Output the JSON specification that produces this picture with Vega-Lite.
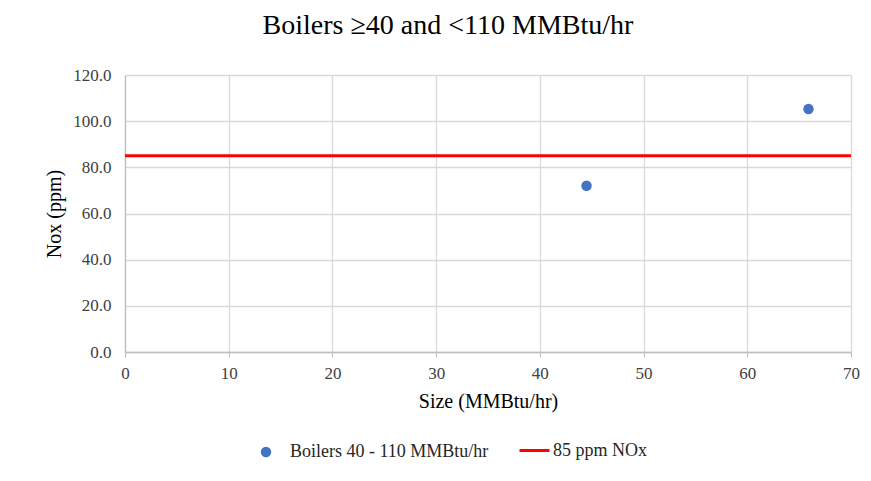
{
  "$schema": "https://vega.github.io/schema/vega-lite/v6.json",
  "width": 726,
  "height": 277,
  "autosize": "none",
  "padding": {"left": 125, "top": 75, "right": 20, "bottom": 129},
  "background": "white",
  "title": {
    "text": "Boilers ≥40 and <110 MMBtu/hr",
    "font": "Liberation Serif",
    "fontSize": 28,
    "fontWeight": "normal",
    "color": "#000000",
    "anchor": "middle",
    "dx": -40,
    "offset": 26
  },
  "config": {
    "view": {"stroke": null},
    "axis": {
      "labelFont": "Liberation Serif",
      "titleFont": "Liberation Serif",
      "labelFontSize": 17,
      "titleFontSize": 20,
      "titleFontWeight": "normal",
      "labelColor": "#404040",
      "titleColor": "#000000",
      "gridColor": "#d9d9d9",
      "gridWidth": 1.3,
      "domainColor": "#bfbfbf",
      "domainWidth": 1.3,
      "tickColor": "#bfbfbf",
      "labelFlush": false
    },
    "legend": {
      "labelFont": "Liberation Serif",
      "labelFontSize": 18,
      "labelColor": "#262626",
      "labelLimit": 400
    }
  },
  "datasets": {
    "boilers": [
      {"series": "Boilers 40 - 110 MMBtu/hr", "size": 44.5, "nox": 72.0},
      {"series": "Boilers 40 - 110 MMBtu/hr", "size": 65.9, "nox": 105.3}
    ],
    "limit": [
      {"series": "85 ppm NOx", "nox": 85}
    ]
  },
  "layer": [
    {
      "data": {"name": "boilers"},
      "mark": {"type": "point", "filled": true, "opacity": 1, "size": 110},
      "encoding": {
        "x": {
          "field": "size",
          "type": "quantitative",
          "scale": {"domain": [0, 70], "nice": false, "zero": true},
          "axis": {
            "title": "Size (MMBtu/hr)",
            "values": [0, 10, 20, 30, 40, 50, 60, 70],
            "tickSize": 5,
            "labelPadding": 8,
            "titlePadding": 10
          }
        },
        "y": {
          "field": "nox",
          "type": "quantitative",
          "scale": {"domain": [0, 120], "nice": false},
          "axis": {
            "title": "Nox (ppm)",
            "values": [0, 20, 40, 60, 80, 100, 120],
            "format": ".1f",
            "ticks": false,
            "labelPadding": 14,
            "titlePadding": 8
          }
        },
        "fill": {
          "field": "series",
          "type": "nominal",
          "scale": {"range": ["#4472c4"]},
          "legend": {
            "title": null,
            "orient": "none",
            "legendX": 132,
            "legendY": 368,
            "symbolType": "circle",
            "symbolSize": 110,
            "symbolStrokeWidth": 0,
            "labelOffset": 15
          }
        }
      }
    },
    {
      "data": {"name": "limit"},
      "mark": {"type": "rule", "strokeWidth": 3},
      "encoding": {
        "y": {"field": "nox", "type": "quantitative"},
        "stroke": {
          "field": "series",
          "type": "nominal",
          "scale": {"range": ["#ff0000"]},
          "legend": {
            "title": null,
            "orient": "none",
            "legendX": 393,
            "legendY": 359,
            "symbolType": "stroke",
            "symbolSize": 900,
            "symbolStrokeWidth": 3,
            "labelOffset": 2
          }
        }
      }
    }
  ]
}
